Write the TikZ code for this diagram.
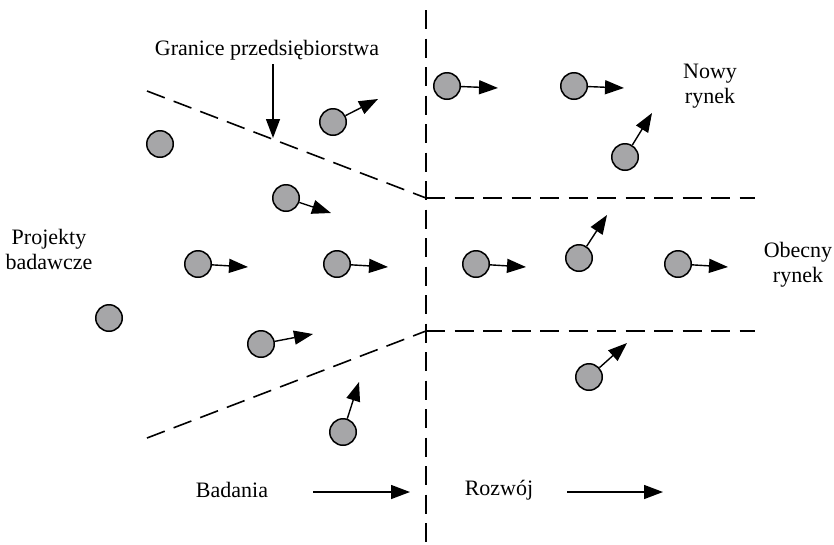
\documentclass[tikz,border=0pt]{standalone}
\usepackage{fontspec}
\setmainfont{Liberation Serif}
\usetikzlibrary{arrows.meta}
\begin{document}
\begin{tikzpicture}[x=1pt,y=-1pt,
  dot/.style={circle,draw=black,line width=1.5pt,fill={rgb,255:red,166;green,166;blue,168},minimum size=26.5pt,inner sep=0pt},
  mv/.style={line width=1.4pt,-{Triangle[length=19pt,width=14pt]}},
  bound/.style={line width=1.6pt,dash pattern=on 19pt off 9.5pt},
  lbl/.style={font=\fontsize{22}{25}\selectfont,align=center,inner sep=0pt}]
\useasboundingbox (0,0) rectangle (834,544);
% boundaries
\coordinate (vt) at (426,10);
\coordinate (vb) at (426,542);
\coordinate (ul) at (147,91);
\coordinate (um) at (426,198);
\coordinate (ur) at (755,198);
\coordinate (ll) at (147,438);
\coordinate (lm) at (426,331);
\coordinate (lr) at (755,331);
\draw[bound] (vt) -- (vb);
\draw[bound] (ul) -- (um);
\draw[bound] (um) -- (ur);
\draw[bound] (ll) -- (lm);
\draw[bound] (lm) -- (lr);
% labels
\node[lbl] (gr) at (267,50) {Granice przedsiębiorstwa};
\coordinate (grs) at (273,64);
\coordinate (gre) at (273,138);
\draw[mv] (grs) -- (gre);
\node[lbl] (pb) at (49,249) {Projekty\\badawcze};
\node[lbl] (nr) at (710,86) {Nowy\\rynek};
\node[lbl] (or) at (798,265) {Obecny\\rynek};
\node[lbl] (bad) at (232,490) {Badania};
\node[lbl] (roz) at (499,490) {Rozwój};
\coordinate (bas) at (313,492);
\coordinate (bae) at (410,492);
\coordinate (ros) at (567,492);
\coordinate (roe) at (663,492);
\draw[mv] (bas) -- (bae);
\draw[mv] (ros) -- (roe);
% dots
\node[dot] (c1) at (160,144) {};
\node[dot] (c2) at (333,122) {};
\node[dot] (c3) at (286,198) {};
\node[dot] (c4) at (198,264) {};
\node[dot] (c5) at (337,264) {};
\node[dot] (c6) at (109,318) {};
\node[dot] (c7) at (261,344) {};
\node[dot] (c8) at (343,432) {};
\node[dot] (c9) at (447,86) {};
\node[dot] (c10) at (574,86) {};
\node[dot] (c11) at (625,157) {};
\node[dot] (c12) at (476,264) {};
\node[dot] (c13) at (579,258) {};
\node[dot] (c14) at (678,264) {};
\node[dot] (c15) at (589,377) {};
% movement targets
\coordinate (t2) at (378,99);
\coordinate (t3) at (331,213);
\coordinate (t4) at (248,267);
\coordinate (t5) at (388,267);
\coordinate (t7) at (313,334);
\coordinate (t8) at (359,382);
\coordinate (t9) at (498,88);
\coordinate (t10) at (624,88);
\coordinate (t11) at (652,113);
\coordinate (t12) at (526,267);
\coordinate (t13) at (607,215);
\coordinate (t14) at (728,267);
\coordinate (t15) at (627,343);
\foreach \i in {2,3,4,5,7,8,9,10,11,12,13,14,15}
  \draw[mv] (c\i) -- (t\i);
\end{tikzpicture}
\end{document}
